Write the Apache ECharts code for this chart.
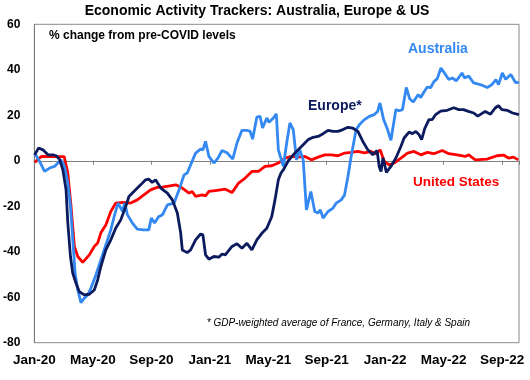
<!DOCTYPE html>
<html><head><meta charset="utf-8">
<script src="https://cdn.jsdelivr.net/npm/echarts@6/dist/echarts.min.js"></script>
<style>html,body{margin:0;padding:0;background:#fff}#c{width:530px;height:380px}</style>
</head><body><div id="c"></div>
<script>
// x values are months since Jan-2020
const xTickLabels = ['Jan-20','May-20','Sep-20','Jan-21','May-21','Sep-21','Jan-22','May-22','Sep-22'];
const australia = [[0.02,3.4],[0.36,-0.3],[0.70,-4.7],[1.04,-3.2],[1.38,-2.5],[1.61,-1.0],[1.83,0.4],[2.06,-2.5],[2.29,-9.8],[2.47,-20.1],[2.63,-34.8],[2.79,-49.5],[2.97,-56.8],[3.19,-62.4],[3.42,-60.4],[3.65,-59.0],[3.87,-56.0],[4.21,-50.2],[4.55,-43.6],[4.89,-37.0],[5.23,-30.4],[5.46,-24.5],[5.73,-18.6],[6.03,-22.3],[6.18,-18.6],[6.37,-23.8],[6.71,-27.4],[7.04,-30.1],[7.45,-30.4],[7.83,-30.4],[8.00,-25.2],[8.22,-27.4],[8.51,-24.5],[8.76,-23.8],[9.10,-19.4],[9.56,-18.6],[9.90,-12.8],[10.24,-6.2],[10.46,-5.4],[10.69,-1.8],[11.03,3.4],[11.37,5.1],[11.53,4.8],[11.71,8.5],[11.94,1.9],[12.28,-1.0],[12.57,1.3],[12.84,4.5],[13.18,3.5],[13.57,0.7],[13.86,7.8],[14.20,13.4],[14.54,13.4],[14.76,12.9],[14.93,9.5],[15.22,19.2],[15.44,19.5],[15.61,14.4],[15.90,18.8],[16.05,16.9],[16.35,18.8],[16.55,20.6],[16.69,4.8],[17.03,-2.5],[17.26,7.8],[17.48,16.6],[17.71,13.7],[17.93,0.4],[18.16,4.8],[18.39,0.4],[18.61,-21.6],[18.91,-13.5],[19.18,-22.3],[19.41,-23.0],[19.56,-21.6],[19.75,-25.2],[20.09,-22.3],[20.43,-20.8],[20.65,-18.6],[20.99,-17.2],[21.22,-15.0],[21.45,-6.9],[21.67,1.9],[22.01,13.7],[22.24,15.9],[22.58,18.1],[22.91,19.5],[23.25,20.3],[23.48,21.7],[23.64,25.4],[23.89,18.1],[24.16,13.7],[24.39,9.0],[24.73,22.5],[24.95,22.0],[25.18,22.5],[25.44,32.2],[25.67,27.3],[25.92,25.8],[26.26,29.1],[26.43,27.8],[26.65,30.2],[26.88,32.4],[27.11,32.2],[27.33,34.8],[27.56,36.1],[27.81,40.8],[28.12,37.9],[28.35,35.7],[28.58,36.4],[28.87,35.2],[29.25,38.6],[29.42,36.4],[29.71,37.2],[30.05,34.2],[30.50,33.5],[30.98,32.2],[31.30,33.5],[31.57,35.7],[31.75,33.5],[32.01,38.6],[32.24,35.8],[32.59,37.9],[32.91,34.4],[33.15,34.5]];
const europe = [[0.02,2.6],[0.29,5.6],[0.59,4.8],[0.93,2.6],[1.27,2.6],[1.49,2.2],[1.72,0.7],[1.95,-4.0],[2.17,-12.8],[2.29,-27.4],[2.47,-42.1],[2.63,-49.5],[2.85,-53.9],[3.08,-57.6],[3.42,-59.0],[3.76,-58.7],[4.10,-56.8],[4.33,-52.4],[4.55,-46.5],[4.89,-39.2],[5.23,-34.8],[5.57,-29.6],[5.91,-26.0],[6.25,-20.1],[6.47,-15.7],[6.81,-13.5],[7.27,-10.6],[7.61,-8.4],[7.83,-8.1],[8.06,-9.5],[8.29,-8.4],[8.42,-8.4],[8.65,-12.0],[9.10,-14.2],[9.44,-17.2],[9.78,-23.0],[10.01,-31.8],[10.12,-39.2],[10.46,-40.4],[10.69,-39.2],[11.03,-34.8],[11.37,-32.2],[11.53,-32.6],[11.71,-41.4],[11.94,-43.3],[12.28,-42.1],[12.62,-42.4],[12.84,-41.0],[13.06,-41.4],[13.52,-37.7],[13.86,-36.5],[14.20,-38.5],[14.54,-36.3],[14.88,-39.2],[15.22,-34.8],[15.56,-31.9],[15.90,-29.7],[16.24,-24.5],[16.46,-17.2],[16.69,-8.4],[16.87,-5.4],[17.03,-4.0],[17.37,0.0],[17.71,2.6],[18.05,4.8],[18.39,7.0],[18.73,9.3],[19.07,10.3],[19.41,10.7],[19.75,11.9],[20.09,13.4],[20.43,12.9],[20.77,12.9],[21.11,13.7],[21.45,14.7],[21.79,14.3],[22.13,12.9],[22.47,8.5],[22.81,4.8],[23.15,2.6],[23.44,4.5],[23.59,-2.6],[23.71,-4.7],[23.85,1.3],[24.08,-5.1],[24.39,-2.5],[24.73,1.2],[25.07,6.3],[25.29,10.0],[25.63,12.6],[25.86,11.9],[26.09,12.9],[26.31,11.5],[26.49,9.3],[26.70,14.1],[26.99,18.1],[27.22,18.1],[27.45,20.3],[27.79,21.8],[28.24,22.2],[28.69,23.3],[29.03,22.5],[29.35,22.5],[29.69,21.7],[30.05,21.0],[30.33,19.6],[30.84,21.7],[31.20,20.5],[31.52,23.2],[31.75,24.2],[31.98,22.5],[32.34,22.2],[32.71,21.0],[33.15,20.3]];
const unitedStates = [[0.02,-0.7],[0.48,1.9],[1.29,1.8],[2.04,1.8],[2.29,-5.4],[2.51,-20.1],[2.74,-37.7],[2.97,-42.1],[3.31,-44.7],[3.76,-41.4],[4.10,-37.7],[4.33,-36.2],[4.55,-31.7],[4.89,-28.2],[5.23,-22.3],[5.57,-18.6],[6.03,-18.3],[6.59,-18.6],[7.04,-17.2],[7.49,-15.0],[7.95,-12.8],[8.40,-11.7],[8.76,-11.6],[9.67,-10.6],[10.12,-12.0],[10.58,-14.2],[10.80,-13.5],[11.03,-15.7],[11.48,-15.0],[11.71,-15.4],[11.94,-13.5],[12.38,-13.1],[13.06,-12.5],[13.52,-14.0],[13.97,-9.8],[14.42,-7.6],[14.88,-4.7],[15.33,-4.7],[15.78,-2.5],[16.24,-2.2],[16.69,-1.0],[17.14,1.2],[17.60,1.9],[18.05,1.6],[18.50,1.9],[18.95,0.4],[19.41,1.6],[19.86,2.6],[20.31,2.6],[20.77,2.2],[21.22,3.4],[21.67,3.7],[22.13,4.1],[22.58,3.5],[23.03,4.1],[23.37,3.1],[23.66,4.8],[23.93,-0.3],[24.27,-1.8],[24.61,-1.0],[25.07,1.2],[25.52,3.4],[25.97,4.1],[26.43,2.6],[26.88,3.7],[27.33,3.1],[27.90,4.5],[28.35,3.1],[28.92,2.6],[29.48,1.9],[29.71,2.6],[30.16,0.4],[30.96,0.7],[31.64,2.2],[32.09,2.5],[32.43,1.2],[32.77,1.6],[33.10,0.4]];

const FONT = 'Liberation Sans, Arial, sans-serif';
const chart = echarts.init(document.getElementById('c'), null, {renderer:'canvas'});
const xBase = {type:'value', min:0, max:33.15, interval:4, splitLine:{show:false}};
chart.setOption({
  animation:false,
  backgroundColor:'#ffffff',
  grid:{left:31, right:11, top:24.3, bottom:37.3, show:true, borderColor:'#8a8a8a', borderWidth:1},
  xAxis:[
    Object.assign({}, xBase, {axisLine:{onZero:true, lineStyle:{color:'#7f7f7f', width:1}}, axisTick:{show:true, length:4, lineStyle:{color:'#7f7f7f'}}, axisLabel:{show:false}}),
    Object.assign({}, xBase, {position:'bottom', axisLine:{show:false, onZero:false}, axisTick:{show:false},
      axisLabel:{show:true, margin:11, color:'#000', fontFamily:FONT, fontWeight:'bold', fontSize:13.5,
        formatter:function(v){ const i = Math.round(v/4); return (Math.abs(v - i*4) < 1e-6 && xTickLabels[i]) ? xTickLabels[i] : ''; }}})
  ],
  yAxis:{type:'value', min:-80, max:60, interval:20, splitLine:{show:false},
    axisLine:{show:true, lineStyle:{color:'#7a7a7a', width:1}}, axisTick:{show:false},
    axisLabel:{margin:14, color:'#000', fontFamily:FONT, fontWeight:'bold', fontSize:12}},
  series:[
    {type:'line', name:'United States', data:unitedStates, xAxisIndex:0, symbol:'none', lineStyle:{color:'#ff0000', width:2.8}},
    {type:'line', name:'Australia', data:australia, xAxisIndex:0, symbol:'none', lineStyle:{color:'#3388f2', width:2.8}},
    {type:'line', name:'Europe*', data:europe, xAxisIndex:0, symbol:'none', lineStyle:{color:'#0c1a5e', width:2.8}}
  ],
  graphic:[
    {type:'text', style:{x:257, y:11, text:'Economic Activity Trackers: Australia, Europe & US', font:'bold 14px '+FONT, fill:'#000', textAlign:'center', textVerticalAlign:'middle'}},
    {type:'text', style:{x:49, y:36, text:'% change from pre-COVID levels', font:'bold 12px '+FONT, fill:'#000', textVerticalAlign:'middle'}},
    {type:'text', style:{x:408, y:49, text:'Australia', font:'bold 14px '+FONT, fill:'#3388f2', textVerticalAlign:'middle'}},
    {type:'text', style:{x:308, y:106, text:'Europe*', font:'bold 14px '+FONT, fill:'#0c1a5e', textVerticalAlign:'middle'}},
    {type:'text', style:{x:413, y:182, text:'United States', font:'bold 13.5px '+FONT, fill:'#ff0000', textVerticalAlign:'middle'}},
    {type:'text', style:{x:470, y:323, text:'* GDP-weighted average of France, Germany, Italy & Spain', font:'italic 10px '+FONT, fill:'#000', textAlign:'right', textVerticalAlign:'middle'}}
  ]
});
</script></body></html>
